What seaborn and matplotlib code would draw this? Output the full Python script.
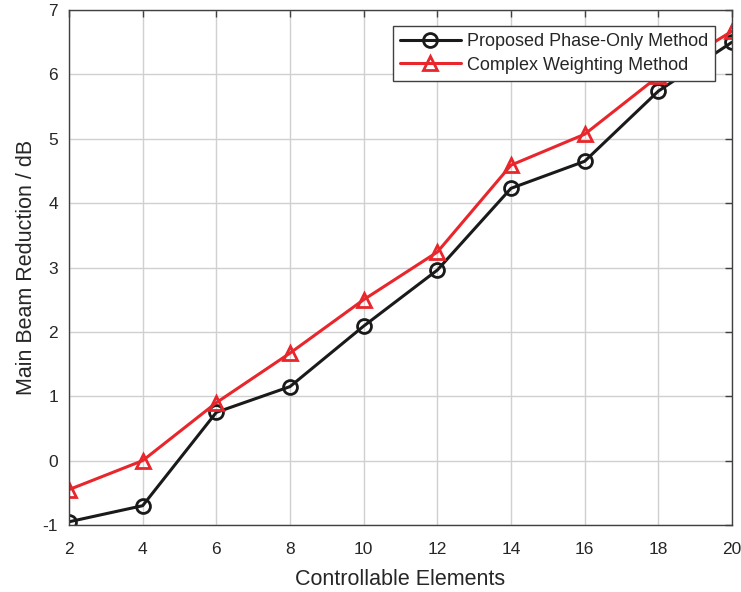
import matplotlib
matplotlib.use("Agg")
import matplotlib.pyplot as plt
import seaborn as sns
import pandas as pd

elements = [2, 4, 6, 8, 10, 12, 14, 16, 18, 20]
phase_only = [-0.95, -0.70, 0.75, 1.15, 2.09, 2.96, 4.23, 4.65, 5.74, 6.50]
complex_w = [-0.45, 0.00, 0.90, 1.67, 2.50, 3.24, 4.59, 5.07, 5.97, 6.67]
series_names = ["Proposed Phase-Only Method", "Complex Weighting Method"]
xticks = [2, 4, 6, 8, 10, 12, 14, 16, 18, 20]
yticks = [-1, 0, 1, 2, 3, 4, 5, 6, 7]

sns.set_theme(style="whitegrid")
plt.rcParams["font.family"] = ["Liberation Sans", "DejaVu Sans"]
plt.rcParams["axes.unicode_minus"] = False

fig = plt.figure(figsize=(7.41, 5.92), dpi=100)
ax = fig.add_axes([69 / 741, 1 - 525 / 592, (732 - 69) / 741, (525 - 10) / 592])

df = pd.DataFrame({"x": elements * 2,
                   "y": phase_only + complex_w,
                   "s": [series_names[0]] * len(elements) + [series_names[1]] * len(elements)})

sns.lineplot(data=df[df.s == series_names[0]], x="x", y="y", ax=ax, color="#1a1a1a",
             marker="o", markersize=10, markerfacecolor="none", markeredgecolor="#1a1a1a",
             markeredgewidth=2.0, linewidth=2.2, label=series_names[0])
sns.lineplot(data=df[df.s == series_names[1]], x="x", y="y", ax=ax, color="#e8262b",
             marker="^", markersize=10, markerfacecolor="none", markeredgecolor="#e8262b",
             markeredgewidth=2.0, linewidth=2.2, label=series_names[1])

ax.set_xlim(2, 20)
ax.set_ylim(-1, 7)
ax.set_xticks(xticks)
ax.set_yticks(yticks)
ax.set_facecolor("white")
ax.grid(True, color="#d0d0d0", linewidth=1.0)
for sp in ax.spines.values():
    sp.set_visible(True)
    sp.set_color("#404040")
    sp.set_linewidth(1.0)
ax.tick_params(direction="in", length=5, width=1, color="#404040",
               top=True, right=True, labelsize=12.5, labelcolor="#262626")
ax.tick_params(axis="x", pad=12)
ax.tick_params(axis="y", pad=8)
ax.set_xlabel("Controllable Elements", fontsize=15.5, color="#262626", labelpad=9)
ax.set_ylabel("Main Beam Reduction / dB", fontsize=15.5, color="#262626", labelpad=4)

leg = ax.legend(loc="upper right", bbox_to_anchor=(715 / 741, 1 - 26 / 592),
                bbox_transform=fig.transFigure, borderaxespad=0, fontsize=13,
                frameon=True, fancybox=False, framealpha=1, edgecolor="#404040",
                handlelength=3.4, borderpad=0.4, labelspacing=0.35, handletextpad=0.3)
leg.get_frame().set_linewidth(1.0)
for t in leg.get_texts():
    t.set_color("#262626")

fig.savefig("out.png", dpi=100)
